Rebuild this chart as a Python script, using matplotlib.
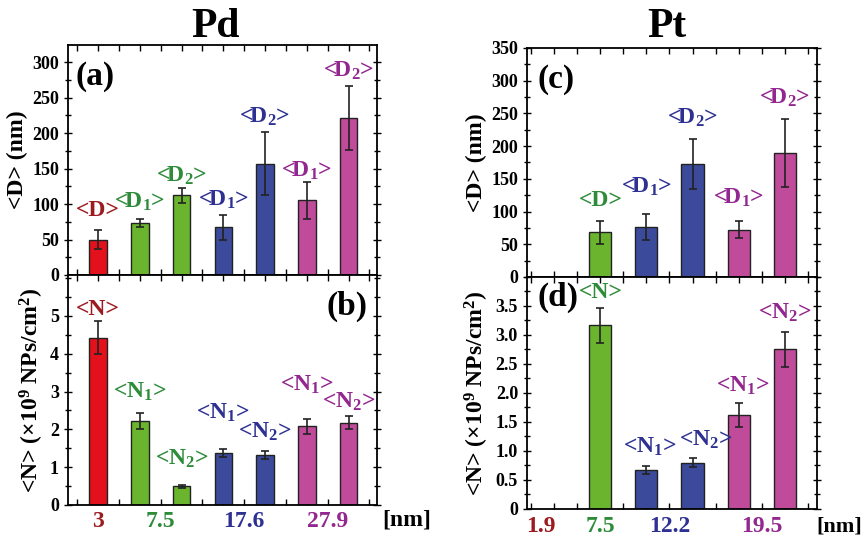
import numpy as np
import matplotlib
matplotlib.use('Agg')
import matplotlib.pyplot as plt
from matplotlib.ticker import MultipleLocator, FuncFormatter

plt.rcParams['font.family'] = ['Liberation Serif', 'DejaVu Serif']
plt.rcParams['font.weight'] = 'bold'
plt.rcParams['mathtext.fontset'] = 'custom'
plt.rcParams['mathtext.rm'] = 'Liberation Serif:bold'
plt.rcParams['mathtext.it'] = 'Liberation Serif:bold:italic'
plt.rcParams['mathtext.bf'] = 'Liberation Serif:bold'

# colores
RED, GREEN, BLUE, MAG = '#e3111b', '#6bb52e', '#3b4a9b', '#c04b9b'
T_RED, T_GREEN, T_BLUE, T_MAG = '#9c1b20', '#2e8b3a', '#2e3192', '#92278f'

# ---- Pd ----
pd_D = [50, 73, 112, 67, 157, 105, 221]
pd_D_err = [13, 6, 10, 18, 45, 26, 45]
pd_N = [4.42, 2.22, 0.50, 1.38, 1.32, 2.08, 2.18]
pd_N_err = [0.44, 0.20, 0.04, 0.10, 0.10, 0.20, 0.18]
pd_D_labels = ['<D>', '<D$_1$>', '<D$_2$>', '<D$_1$>', '<D$_2$>', '<D$_1$>', '<D$_2$>']
pd_N_labels = ['<N>', '<N$_1$>', '<N$_2$>', '<N$_1$>', '<N$_2$>', '<N$_1$>', '<N$_2$>']
pd_colors = [RED, GREEN, GREEN, BLUE, BLUE, MAG, MAG]
pd_tcolors = [T_RED, T_GREEN, T_GREEN, T_BLUE, T_BLUE, T_MAG, T_MAG]
pd_sizes = ['3', '7.5', '17.6', '27.9']

# ---- Pt ---- (primer hueco, 1.9 nm, sin barra)
pt_D = [np.nan, 68, 77, 173, 72, 190]
pt_D_err = [0, 17, 20, 38, 13, 52]
pt_N = [np.nan, 3.17, 0.67, 0.80, 1.62, 2.75]
pt_N_err = [0, 0.30, 0.07, 0.08, 0.20, 0.31]
pt_D_labels = ['', '<D>', '<D$_1$>', '<D$_2$>', '<D$_1$>', '<D$_2$>']
pt_N_labels = ['', '<N>', '<N$_1$>', '<N$_2$>', '<N$_1$>', '<N$_2$>']
pt_colors = [RED, GREEN, BLUE, BLUE, MAG, MAG]
pt_tcolors = [T_RED, T_GREEN, T_BLUE, T_BLUE, T_MAG, T_MAG]
pt_sizes = ['1.9', '7.5', '12.2', '19.5']

# desplazamiento de etiquetas (pixeles) sobre la barra de error
off_a = [(0, 20), (0, 17), (0, 13), (0, 15), (0, 15), (0, 11), (0, 15)]
off_b = [(0, 12), (0, 22), (0, 26), (0, 36), (0, 19), (0, 34), (0, 14)]
off_c = [(0, 0), (0, 21), (0, 27), (0, 21), (0, 24), (0, 21)]
off_d = [(0, 0), (0, 15), (3, 19), (13, 18), (4, 18), (0, 19)]

fig = plt.figure(figsize=(8.64, 5.39), dpi=100)
ax_a = fig.add_axes([0.0787, 0.4898, 0.3576, 0.4267])
ax_b = fig.add_axes([0.0787, 0.0631, 0.3576, 0.4267])
ax_c = fig.add_axes([0.6100, 0.4861, 0.3356, 0.4249])
ax_d = fig.add_axes([0.6100, 0.0557, 0.3356, 0.4304])


def draw(ax, vals, errs, colors, tcolors, labels, offs, width):
    x = np.arange(len(vals))
    ax.bar(x, vals, width, color=colors, edgecolor='#222222', linewidth=1.0, zorder=2)
    ok = ~np.isnan(np.array(vals, dtype=float))
    ax.errorbar(x[ok], np.array(vals)[ok], yerr=np.array(errs)[ok], fmt='none',
                ecolor='#222222', elinewidth=1.2, capsize=3, capthick=1.2, zorder=3)
    for i in range(len(vals)):
        if not ok[i]:
            continue
        ax.annotate(labels[i], (x[i], vals[i] + errs[i]), xytext=offs[i],
                    textcoords='offset pixels', ha='center', va='center',
                    color=tcolors[i], fontsize=17, fontweight='bold')
    ax.xaxis.set_major_locator(MultipleLocator(1))
    ax.xaxis.set_minor_locator(MultipleLocator(0.5))
    ax.tick_params(axis='x', which='both', direction='in', top=True, bottom=True,
                   labelbottom=False, length=4, width=1)
    ax.tick_params(axis='y', which='major', direction='inout', right=True,
                   length=6, width=1, labelsize=13)
    ax.tick_params(axis='y', which='minor', direction='inout', right=True,
                   length=4, width=1)
    for s in ax.spines.values():
        s.set_linewidth(1.3)


draw(ax_a, pd_D, pd_D_err, pd_colors, pd_tcolors, pd_D_labels, off_a, 0.42)
draw(ax_b, pd_N, pd_N_err, pd_colors, pd_tcolors, pd_N_labels, off_b, 0.42)
draw(ax_c, pt_D, pt_D_err, pt_colors, pt_tcolors, pt_D_labels, off_c, 0.48)
draw(ax_d, pt_N, pt_N_err, pt_colors, pt_tcolors, pt_N_labels, off_d, 0.48)

for ax in (ax_a, ax_b):
    ax.set_xlim(-0.72, 6.68)
for ax in (ax_c, ax_d):
    ax.set_xlim(-0.59, 5.70)

ax_a.set_ylim(0, 324)
ax_a.yaxis.set_major_locator(MultipleLocator(50))
ax_a.yaxis.set_minor_locator(MultipleLocator(25))
ax_b.set_ylim(0, 6.08)
ax_b.set_yticks([0, 1, 2, 3, 4, 5])
ax_b.yaxis.set_minor_locator(MultipleLocator(0.5))
ax_c.set_ylim(0, 350)
ax_c.yaxis.set_major_locator(MultipleLocator(50))
ax_c.yaxis.set_minor_locator(MultipleLocator(25))
ax_d.set_ylim(0, 4.0)
ax_d.set_yticks([0, 0.5, 1.0, 1.5, 2.0, 2.5, 3.0, 3.5])
ax_d.yaxis.set_minor_locator(MultipleLocator(0.25))
ax_d.yaxis.set_major_formatter(FuncFormatter(lambda v, p: '0' if v == 0 else '%.1f' % v))

ylab_D = '<D> (nm)'
ylab_N = '<N> ($\\times$10$^9$ NPs/cm$^2$)'
ax_a.set_ylabel(ylab_D, fontsize=17, fontweight='bold', labelpad=3)
ax_b.set_ylabel(ylab_N, fontsize=17, fontweight='bold', labelpad=3)
ax_c.set_ylabel(ylab_D, fontsize=17, fontweight='bold', labelpad=3)
ax_d.set_ylabel(ylab_N, fontsize=17, fontweight='bold', labelpad=3)

ax_a.text(0.025, 0.93, '(a)', transform=ax_a.transAxes, fontsize=24, fontweight='bold', va='top')
ax_b.text(0.97, 0.93, '(b)', transform=ax_b.transAxes, fontsize=24, fontweight='bold', va='top', ha='right')
ax_c.text(0.035, 0.93, '(c)', transform=ax_c.transAxes, fontsize=24, fontweight='bold', va='top')
ax_d.text(0.035, 0.98, '(d)', transform=ax_d.transAxes, fontsize=24, fontweight='bold', va='top')

fig.text(215 / 864, 1 - 27 / 539, 'Pd', fontsize=30, fontweight='bold', ha='center', va='center')
fig.text(667 / 864, 1 - 27 / 539, 'Pt', fontsize=30, fontweight='bold', ha='center', va='center')

# etiquetas de tamano bajo los ejes
size_colors = [T_RED, T_GREEN, T_BLUE, T_MAG]
pd_pos = [0, 1.5, 3.5, 5.5]
pt_pos = [-0.3, 1.0, 2.5, 4.5]
for s, p, c in zip(pd_sizes, pd_pos, size_colors):
    ax_b.annotate(s, (p, 0), xytext=(0, -17), textcoords='offset pixels', ha='center',
                  va='center', color=c, fontsize=17, fontweight='bold', annotation_clip=False)
for s, p, c in zip(pt_sizes, pt_pos, size_colors):
    ax_d.annotate(s, (p, 0), xytext=(0, -18), textcoords='offset pixels', ha='center',
                  va='center', color=c, fontsize=17, fontweight='bold', annotation_clip=False)
fig.text(407 / 864, 1 - 520 / 539, '[nm]', fontsize=17, fontweight='bold', ha='center', va='center')
fig.text(839 / 864, 1 - 526 / 539, '[nm]', fontsize=16, fontweight='bold', ha='center', va='center')

fig.savefig('out.png', dpi=100)
